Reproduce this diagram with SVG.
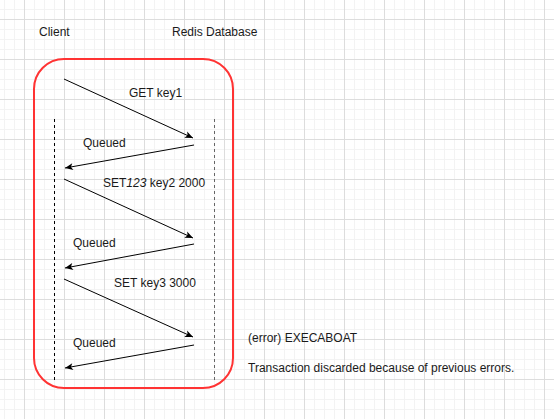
<svg xmlns="http://www.w3.org/2000/svg" width="554" height="419" viewBox="0 0 554 419">
<style>
text{font-family:"Liberation Sans",Arial,sans-serif;font-size:12px;fill:#1a1a1a}
.msg{fill:none;stroke:#000;stroke-width:1;marker-end:url(#arr)}
.life{fill:none;stroke-width:1;stroke-dasharray:3 3}
</style>
<defs>
<pattern id="grid" patternUnits="userSpaceOnUse" x="24" y="19" width="40" height="40">
<rect x="0" y="0" width="40" height="40" fill="#ffffff"/>
<rect x="10" y="0" width="1" height="40" fill="#f3f3f3"/>
<rect x="20" y="0" width="1" height="40" fill="#f3f3f3"/>
<rect x="30" y="0" width="1" height="40" fill="#f3f3f3"/>
<rect x="0" y="10" width="40" height="1" fill="#f3f3f3"/>
<rect x="0" y="20" width="40" height="1" fill="#f3f3f3"/>
<rect x="0" y="30" width="40" height="1" fill="#f3f3f3"/>
<rect x="0" y="0" width="1" height="40" fill="#dddddd"/>
<rect x="0" y="0" width="40" height="1" fill="#dddddd"/>
</pattern>
<marker id="arr" markerUnits="userSpaceOnUse" markerWidth="9" markerHeight="8" refX="8" refY="3.5" orient="auto" overflow="visible">
<path d="M0,0 L8,3.5 L0,7 L2,3.5 Z" fill="#000"/>
</marker>
</defs>
<rect width="554" height="419" fill="url(#grid)"/>
<g id="client-label"><text x="39" y="36">Client</text></g>
<g id="redis-label"><text x="172" y="36">Redis Database</text></g>
<g id="transaction-box"><rect x="34" y="59" width="199" height="329" rx="30" ry="30" fill="none" stroke="#ff3333" stroke-width="2"/></g>
<g id="client-lifeline"><line class="life" x1="54.5" y1="119" x2="54.5" y2="380" stroke="#000"/></g>
<g id="redis-lifeline"><line class="life" x1="214.5" y1="119" x2="214.5" y2="380" stroke="#666"/></g>
<g id="connectors">
<line class="msg" x1="64" y1="79" x2="193" y2="138"/>
<line class="msg" x1="194" y1="145" x2="65" y2="168"/>
<line class="msg" x1="64" y1="179" x2="193" y2="238"/>
<line class="msg" x1="194" y1="244" x2="65" y2="268"/>
<line class="msg" x1="64" y1="279" x2="193" y2="337"/>
<line class="msg" x1="194" y1="345" x2="65" y2="368"/>
</g>
<g id="labels">
<text x="129" y="97">GET key1</text>
<text x="83" y="147">Queued</text>
<text x="103" y="187">SET<tspan font-style="italic">123</tspan> key2 2000</text>
<text x="73" y="247">Queued</text>
<text x="114" y="287">SET key3 3000</text>
<text x="73" y="347">Queued</text>
</g>
<g id="error-text">
<text x="248" y="342">(error) EXECABOAT</text>
<text x="248" y="372">Transaction discarded because of previous errors.</text>
</g>
</svg>
